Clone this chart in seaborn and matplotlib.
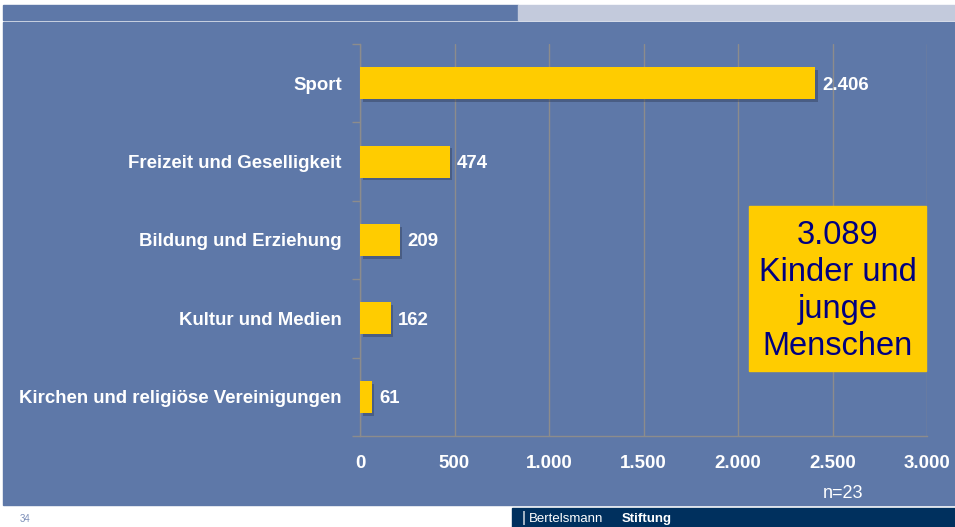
import matplotlib
matplotlib.use('Agg')
import pandas as pd
import seaborn as sns
from matplotlib import pyplot as plt
from matplotlib.patches import Rectangle
import matplotlib.patheffects as pe

categories = ['Sport', 'Freizeit und Geselligkeit', 'Bildung und Erziehung',
              'Kultur und Medien', 'Kirchen und religiöse Vereinigungen']
values = [2406, 474, 209, 162, 61]
value_labels = ['2.406', '474', '209', '162', '61']
xticks = [0, 500, 1000, 1500, 2000, 2500, 3000]
xtick_labels = ['0', '500', '1.000', '1.500', '2.000', '2.500', '3.000']
total_text = '3.089\nKinder und\njunge\nMenschen'

bg = '#5e78a8'
gold = '#ffcc00'
grid = '#8c8c8c'

sns.set_theme(style='white')
plt.rcParams['font.family'] = ['Liberation Sans', 'DejaVu Sans']

W, H = 955, 527
fig = plt.figure(figsize=(W / 100, H / 100), dpi=100)
fig.patch.set_facecolor('white')


def fig_rect(x0, y0, x1, y1, color, z=-1):
    fig.patches.append(Rectangle((x0 / W, 1 - y1 / H), (x1 - x0) / W, (y1 - y0) / H,
                                 transform=fig.transFigure, color=color, zorder=z))


# header band, panel, footer
fig_rect(3, 5, 518, 20, bg)
fig_rect(518, 5, 955, 20, '#c3cadc')
fig_rect(3, 22, 955, 505, bg)
fig_rect(512, 508, 955, 527, '#00305e')

ax = fig.add_axes([360 / W, 1 - 436 / H, (927 - 360) / W, (436 - 44) / H])
ax.set_zorder(1)
ax.set_facecolor('none')

df = pd.DataFrame({'cat': categories, 'val': values})
sns.barplot(data=df, x='val', y='cat', orient='h', color=gold, width=0.41,
            saturation=1, linewidth=0, edgecolor='none', ax=ax, zorder=3)
for p in ax.patches:
    p.set_path_effects([pe.SimplePatchShadow(offset=(2, -2), shadow_rgbFace='#2a3550',
                                             alpha=0.4), pe.Normal()])

ax.set_xlim(0, 3000)
ax.set_ylim(4.5, -0.5)
ax.set_xticks(xticks)
ax.set_xticklabels(xtick_labels, color='white', fontsize=13.5, fontweight='bold')
ax.set_yticks(range(len(categories)))
ax.set_yticklabels(categories, color='white', fontsize=13.4, fontweight='bold')
ax.tick_params(axis='y', length=0, pad=13)
ax.tick_params(axis='x', length=6, color=grid, width=1, pad=8, direction='out')
ax.set_xlabel('')
ax.set_ylabel('')

# minor ticks on y between categories
ax.set_yticks([-0.5, 0.5, 1.5, 2.5, 3.5, 4.5], minor=True)
ax.tick_params(axis='y', which='minor', length=6, color=grid, width=1, left=True)

ax.grid(axis='x', color=grid, linewidth=1, zorder=0)
for s in ['top', 'right']:
    ax.spines[s].set_visible(False)
for s in ['left', 'bottom']:
    ax.spines[s].set_color(grid)
    ax.spines[s].set_linewidth(1)

for i, (v, lab) in enumerate(zip(values, value_labels)):
    ax.text(v + 40, i, lab, color='white', fontsize=13.4, fontweight='bold',
            va='center_baseline', ha='left')

# summary box
fig_rect(749, 206, 926, 371, gold, z=5)
fig.text(837.5 / W, 1 - 291 / H, total_text, ha='center', va='center',
         fontsize=23.5, color='#000080', linespacing=1.26, zorder=6)

fig.text(843 / W, 1 - 494 / H, 'n=23', ha='center', va='center', fontsize=13,
         color='white')
fig.text(20 / W, 1 - 519 / H, '34', ha='left', va='center', fontsize=7,
         color='#7d8fb8')
fig.text(522 / W, 1 - 518 / H, '|', ha='left', va='center', fontsize=11,
         color='white')
fig.text(529 / W, 1 - 519 / H, 'Bertelsmann', ha='left', va='center', fontsize=9.5,
         color='white')
fig.text(672 / W, 1 - 519 / H, 'Stiftung', ha='right', va='center', fontsize=9.5,
         color='white', fontweight='bold')

fig.savefig('out.png', dpi=100, facecolor=fig.get_facecolor())
